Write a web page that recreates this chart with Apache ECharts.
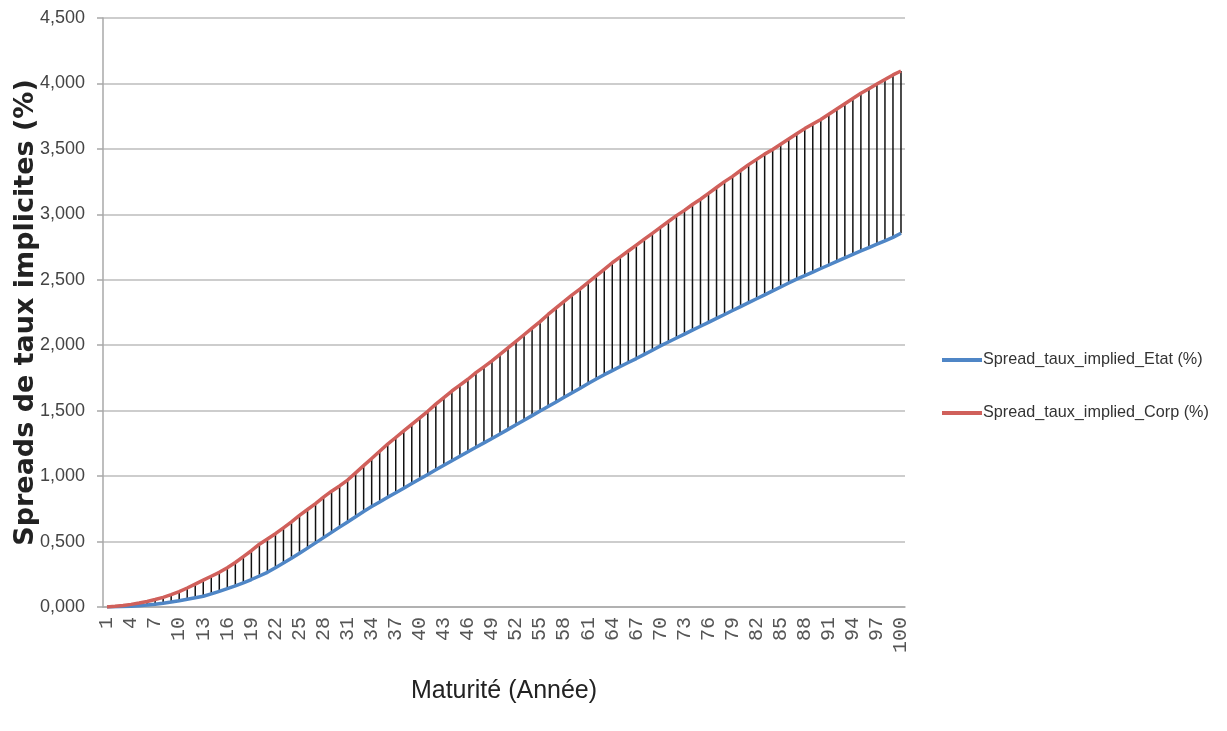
<!DOCTYPE html>
<html>
<head>
<meta charset="utf-8">
<script src="https://cdn.jsdelivr.net/npm/echarts@6/dist/echarts.min.js"></script>
<style>html,body{margin:0;padding:0;background:#fff;}#c{width:1227px;height:731px;}</style>
</head>
<body>
<div id="c"></div>
<script>
const categories = ['1','2','3','4','5','6','7','8','9','10','11','12','13','14','15','16','17','18','19','20',
'21','22','23','24','25','26','27','28','29','30','31','32','33','34','35','36','37','38','39','40',
'41','42','43','44','45','46','47','48','49','50','51','52','53','54','55','56','57','58','59','60',
'61','62','63','64','65','66','67','68','69','70','71','72','73','74','75','76','77','78','79','80',
'81','82','83','84','85','86','87','88','89','90','91','92','93','94','95','96','97','98','99','100'];

const spreadEtat = [0.000,0.001,0.003,0.006,0.010,0.015,0.021,0.029,0.038,0.048,
0.059,0.070,0.082,0.100,0.120,0.140,0.162,0.185,0.210,0.237,
0.265,0.300,0.336,0.372,0.410,0.450,0.490,0.530,0.570,0.610,
0.650,0.690,0.730,0.767,0.803,0.838,0.873,0.908,0.943,0.978,
1.013,1.048,1.083,1.118,1.152,1.186,1.220,1.254,1.288,1.322,
1.357,1.392,1.427,1.462,1.497,1.532,1.567,1.602,1.637,1.672,
1.707,1.742,1.775,1.806,1.837,1.868,1.898,1.930,1.962,1.995,
2.025,2.055,2.085,2.115,2.145,2.175,2.205,2.235,2.265,2.295,
2.325,2.355,2.385,2.415,2.445,2.475,2.505,2.532,2.559,2.586,
2.613,2.640,2.667,2.694,2.720,2.746,2.772,2.798,2.824,2.855];

const spreadCorp = [0.000,0.005,0.012,0.020,0.030,0.042,0.057,0.074,0.094,0.118,
0.145,0.175,0.205,0.235,0.265,0.300,0.340,0.385,0.430,0.480,
0.520,0.560,0.605,0.650,0.700,0.745,0.790,0.840,0.885,0.925,
0.970,1.025,1.080,1.135,1.190,1.245,1.295,1.345,1.395,1.445,
1.495,1.550,1.600,1.650,1.695,1.740,1.790,1.835,1.880,1.930,
1.980,2.030,2.080,2.130,2.180,2.235,2.285,2.335,2.385,2.430,
2.480,2.530,2.580,2.630,2.675,2.720,2.765,2.810,2.855,2.900,
2.945,2.990,3.030,3.075,3.115,3.160,3.205,3.250,3.290,3.335,
3.380,3.420,3.460,3.495,3.535,3.575,3.615,3.655,3.690,3.725,
3.765,3.805,3.845,3.885,3.925,3.960,3.995,4.030,4.065,4.095];

const seriesNames = ['Spread_taux_implied_Etat (%)', 'Spread_taux_implied_Corp (%)'];
const xTitle = 'Maturité (Année)';
const yTitle = 'Spreads de taux implicites (%)';

const chart = echarts.init(document.getElementById('c'), null, {renderer: 'canvas'});
const narrow = "'Liberation Sans Narrow', 'Liberation Sans', sans-serif";

chart.setOption({
  animation: false,
  backgroundColor: '#ffffff',
  grid: {left: 103, right: 322, top: 18, bottom: 124, containLabel: false, outerBoundsMode: 'none'},
  legend: {
    data: seriesNames,
    orient: 'vertical',
    left: 937,
    top: 347,
    itemGap: 37,
    itemWidth: 40,
    itemHeight: 4,
    icon: 'rect',
    textStyle: {fontFamily: narrow, fontSize: 16.2, color: '#333', padding: [0, 0, 0, -4]}
  },
  xAxis: {
    type: 'category',
    data: categories,
    boundaryGap: true,
    name: xTitle,
    nameLocation: 'middle',
    nameGap: 72,
    nameMoveOverlap: false,
    nameTextStyle: {fontFamily: narrow, fontSize: 25, color: '#222'},
    axisLine: {lineStyle: {color: '#a8a8a8', width: 1.5}},
    axisTick: {show: false},
    axisLabel: {interval: 2, rotate: 90, margin: 10, fontFamily: "'Liberation Mono', monospace", fontSize: 20, color: '#555'},
    splitLine: {show: false}
  },
  yAxis: {
    type: 'value',
    min: 0,
    max: 4.5,
    interval: 0.5,
    name: yTitle,
    nameLocation: 'middle',
    nameGap: 64,
    nameMoveOverlap: false,
    nameTextStyle: {fontFamily: "'DejaVu Sans', sans-serif", fontWeight: 'bold', fontSize: 27, color: '#222'},
    axisLine: {show: true, lineStyle: {color: '#a8a8a8', width: 1.5}},
    axisTick: {show: true, length: 6, lineStyle: {color: '#a8a8a8', width: 1.5}},
    axisLabel: {margin: 18, fontFamily: narrow, fontSize: 18, color: '#444',
      formatter: v => v.toFixed(3).replace('.', ',')},
    splitLine: {lineStyle: {color: '#bdbdbd', width: 1.5}}
  },
  series: [
    {
      type: 'custom',
      name: 'hilo',
      z: 1,
      silent: true,
      data: categories.map((c, i) => [i, spreadEtat[i], spreadCorp[i]]),
      encode: {x: 0, y: [1, 2]},
      renderItem: function (params, api) {
        const i = api.value(0);
        const p1 = api.coord([i, api.value(1)]);
        const p2 = api.coord([i, api.value(2)]);
        return {type: 'line', shape: {x1: p1[0], y1: p1[1], x2: p2[0], y2: p2[1]},
          style: {stroke: '#111', lineWidth: 1.5}};
      }
    },
    {
      type: 'line', name: seriesNames[0], data: spreadEtat, z: 3,
      showSymbol: false, symbol: 'none', smooth: false,
      itemStyle: {color: '#4f86c6'},
      lineStyle: {color: '#4f86c6', width: 3.5}
    },
    {
      type: 'line', name: seriesNames[1], data: spreadCorp, z: 4,
      showSymbol: false, symbol: 'none', smooth: false,
      itemStyle: {color: '#d0605b'},
      lineStyle: {color: '#d0605b', width: 3.5}
    }
  ]
});
</script>
</body>
</html>
